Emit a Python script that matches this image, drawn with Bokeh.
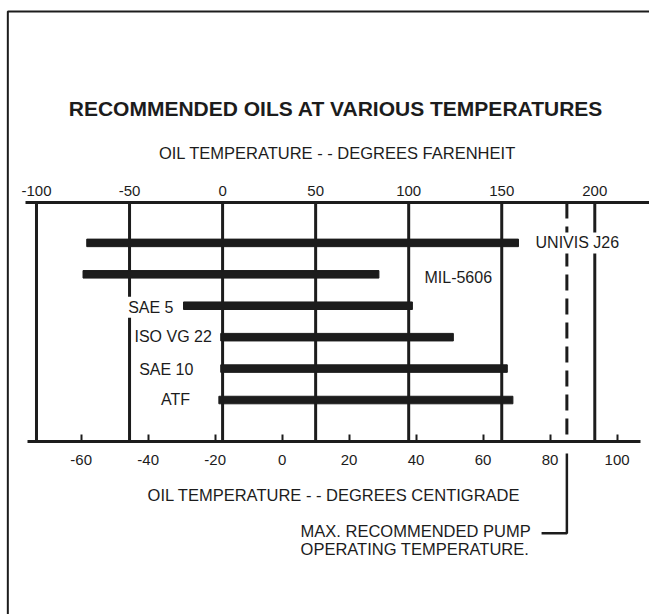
from bokeh.plotting import figure
from bokeh.models import Range1d, LinearAxis, FixedTicker, Label, ColumnDataSource
from bokeh.embed import file_html
from bokeh.resources import INLINE

# ---------------- data ----------------
oils = ["UNIVIS J26", "MIL-5606", "SAE 5", "ISO VG 22", "SAE 10", "ATF"]
low_f = [-73, -75, -21, -1, -1, -2]          # lower usable temperature, deg F
high_f = [159, 84, 102, 124, 153, 156]       # upper usable temperature, deg F
rows = [0, 1, 2, 3, 4, 5]
f_ticks = [-100, -50, 0, 50, 100, 150, 200]
c_ticks = [-60, -40, -20, 0, 20, 40, 60, 80, 100]
max_pump_c = 85

# label placement (x in deg F, y in row units) and alignment
label_x = [167.1, 107.4, -25.3, -4.7, -14.6, -16.4]
label_y = [0.0, 1.09, 2.05, 2.98, 4.03, 4.99]
label_align = ["left", "left", "right", "right", "right", "right"]

INK = "#1c1c1c"
FONT = "Liberation Sans"

# plotting frame covers the whole canvas; axes are pinned with fixed_location
Y_TOP_AXIS, Y_BOT_AXIS = -1.285, 6.319
p = figure(width=649, height=614, output_backend="svg", toolbar_location=None,
           x_range=Range1d(-119.34, 229.4), y_range=Range1d(11.824, -7.712),
           x_axis_location=None, y_axis_location=None,
           min_border=0, min_border_left=0, min_border_right=0,
           min_border_top=0, min_border_bottom=0)
p.outline_line_color = None
p.background_fill_color = "white"
p.border_fill_color = "white"
p.xgrid.grid_line_color = None
p.ygrid.grid_line_color = None

p.extra_x_ranges = {"C": Range1d((-119.34 - 32) / 1.8, (229.4 - 32) / 1.8)}

top = LinearAxis(ticker=FixedTicker(ticks=f_ticks), fixed_location=Y_TOP_AXIS,
                 bounds=(-105.9, 229.4),
                 major_label_overrides={t: str(t) for t in f_ticks},
                 axis_label="OIL TEMPERATURE - - DEGREES FARENHEIT")
bot = LinearAxis(x_range_name="C", ticker=FixedTicker(ticks=c_ticks),
                 fixed_location=Y_BOT_AXIS, bounds=(-76.1, 107.0),
                 major_label_overrides={t: str(t) for t in c_ticks},
                 axis_label="OIL TEMPERATURE - - DEGREES CENTIGRADE")
for ax in (top, bot):
    ax.axis_line_width = 3
    ax.axis_line_color = INK
    ax.minor_tick_line_color = None
    ax.major_tick_line_color = INK
    ax.major_tick_line_width = 2
    ax.major_label_text_font = FONT
    ax.major_label_text_font_size = "15px"
    ax.major_label_text_color = INK
    ax.axis_label_text_font = FONT
    ax.axis_label_text_font_size = "16.5px"
    ax.axis_label_text_font_style = "normal"
    ax.axis_label_text_color = INK
top.major_tick_in = 0
top.major_tick_out = 0
top.major_label_standoff = 6
top.axis_label_standoff = 22
bot.major_tick_in = 7
bot.major_tick_out = 0
bot.major_label_standoff = 14
bot.axis_label_standoff = 17
p.add_layout(top, "above")
p.add_layout(bot, "below")

# vertical reference lines at the Fahrenheit ticks
p.segment(x0=f_ticks, x1=f_ticks, y0=[Y_TOP_AXIS] * len(f_ticks),
          y1=[Y_BOT_AXIS] * len(f_ticks), line_color=INK, line_width=3)

max_pump_f = max_pump_c * 1.8 + 32
p.segment(x0=[max_pump_f], x1=[max_pump_f], y0=[Y_TOP_AXIS], y1=[Y_BOT_AXIS],
          line_color=INK, line_width=3, line_dash="16 8")

src = ColumnDataSource(dict(name=oils, low=low_f, high=high_f, row=rows))
p.hbar(y="row", left="low", right="high", height=0.24, color=INK, source=src)

for name, lx, ly, al in zip(oils, label_x, label_y, label_align):
    p.add_layout(Label(x=lx, y=ly, text=name, text_align=al,
                       text_baseline="middle", text_font=FONT,
                       text_font_size="16px", text_color=INK,
                       background_fill_color="white", padding=2))

# title
p.add_layout(Label(x=60.9, y=-4.276, text="RECOMMENDED OILS AT VARIOUS TEMPERATURES",
                   text_align="center", text_baseline="middle", text_font=FONT,
                   text_font_size="21px", text_font_style="bold", text_color=INK))

# bracket to the "max recommended" note
p.line(x=[max_pump_f, max_pump_f, 171.4], y=[6.70, 9.24, 9.24],
       line_color=INK, line_width=2.5)
for txt, yy in (("MAX. RECOMMENDED PUMP", 9.18), ("OPERATING TEMPERATURE.", 9.755)):
    p.add_layout(Label(x=41.9, y=yy, text=txt, text_align="left",
                       text_baseline="middle", text_font=FONT,
                       text_font_size="16.5px", text_color=INK))

# frame border of the original figure
p.line(x=[229.4, -115.4, -115.4], y=[-7.362, -7.362, 11.824],
       line_color=INK, line_width=2)

open("out.html", "w").write(file_html(p, INLINE))
